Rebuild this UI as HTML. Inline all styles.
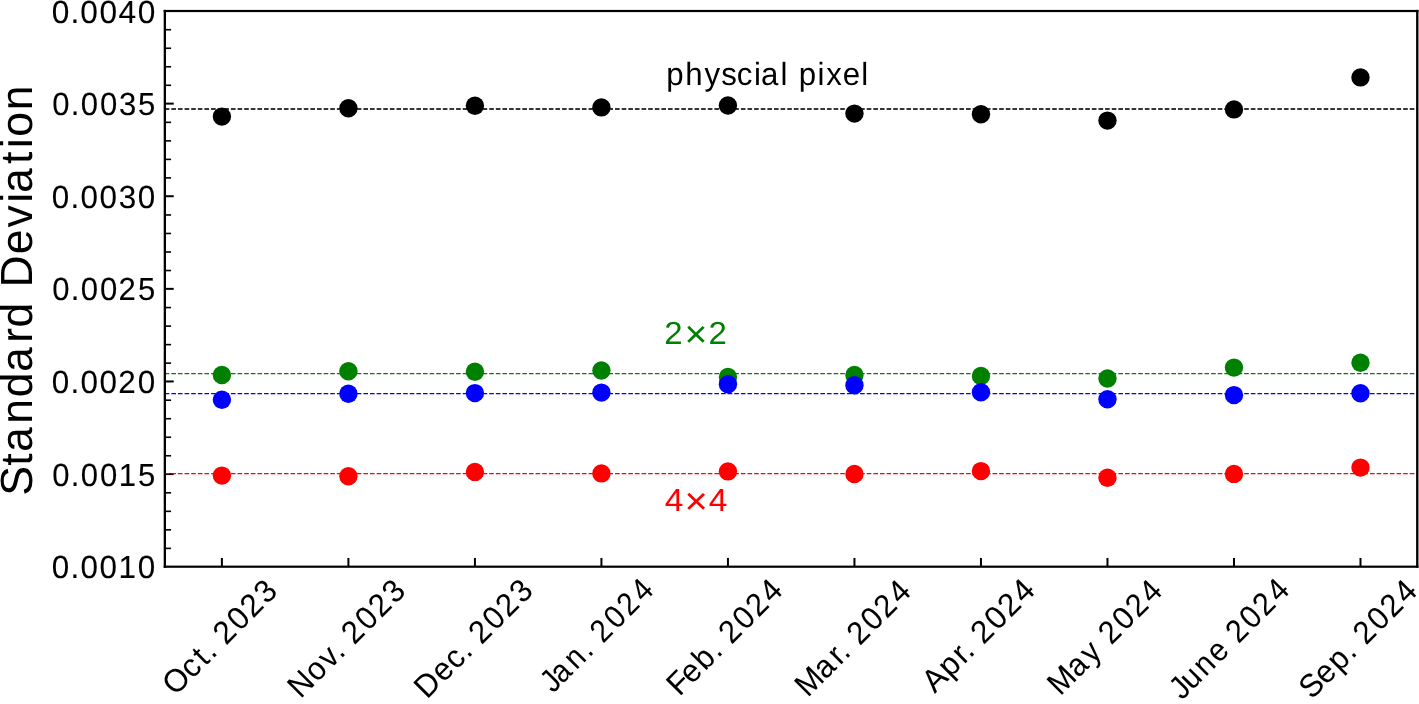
<!DOCTYPE html><html><head><meta charset="utf-8"><title>Standard Deviation</title><style>
html,body{margin:0;padding:0;background:#fff;}body{width:1419px;height:704px;overflow:hidden;}
svg{display:block;will-change:transform;}text{font-family:"Liberation Sans",sans-serif;text-rendering:geometricPrecision;}
</style></head><body>
<svg width="1419" height="704" viewBox="0 0 1419 704">
<rect x="0" y="0" width="1419" height="704" fill="#fff"/>
<g fill="#000">
<rect x="164.97" y="473.08" width="8.75" height="2"/>
<rect x="164.97" y="380.47" width="8.75" height="2"/>
<rect x="164.97" y="287.85" width="8.75" height="2"/>
<rect x="164.97" y="195.23" width="8.75" height="2"/>
<rect x="164.97" y="102.62" width="8.75" height="2"/>
<rect x="164.97" y="547.58" width="6.10" height="1.6"/>
<rect x="164.97" y="529.05" width="6.10" height="1.6"/>
<rect x="164.97" y="510.53" width="6.10" height="1.6"/>
<rect x="164.97" y="492.01" width="6.10" height="1.6"/>
<rect x="164.97" y="454.96" width="6.10" height="1.6"/>
<rect x="164.97" y="436.44" width="6.10" height="1.6"/>
<rect x="164.97" y="417.91" width="6.10" height="1.6"/>
<rect x="164.97" y="399.39" width="6.10" height="1.6"/>
<rect x="164.97" y="362.34" width="6.10" height="1.6"/>
<rect x="164.97" y="343.82" width="6.10" height="1.6"/>
<rect x="164.97" y="325.30" width="6.10" height="1.6"/>
<rect x="164.97" y="306.77" width="6.10" height="1.6"/>
<rect x="164.97" y="269.73" width="6.10" height="1.6"/>
<rect x="164.97" y="251.20" width="6.10" height="1.6"/>
<rect x="164.97" y="232.68" width="6.10" height="1.6"/>
<rect x="164.97" y="214.16" width="6.10" height="1.6"/>
<rect x="164.97" y="177.11" width="6.10" height="1.6"/>
<rect x="164.97" y="158.59" width="6.10" height="1.6"/>
<rect x="164.97" y="140.06" width="6.10" height="1.6"/>
<rect x="164.97" y="121.54" width="6.10" height="1.6"/>
<rect x="164.97" y="84.49" width="6.10" height="1.6"/>
<rect x="164.97" y="65.97" width="6.10" height="1.6"/>
<rect x="164.97" y="47.45" width="6.10" height="1.6"/>
<rect x="164.97" y="28.92" width="6.10" height="1.6"/>
<rect x="220.90" y="557.95" width="2" height="8.75"/>
<rect x="347.41" y="557.95" width="2" height="8.75"/>
<rect x="473.92" y="557.95" width="2" height="8.75"/>
<rect x="600.43" y="557.95" width="2" height="8.75"/>
<rect x="726.94" y="557.95" width="2" height="8.75"/>
<rect x="853.45" y="557.95" width="2" height="8.75"/>
<rect x="979.96" y="557.95" width="2" height="8.75"/>
<rect x="1106.47" y="557.95" width="2" height="8.75"/>
<rect x="1232.98" y="557.95" width="2" height="8.75"/>
<rect x="1359.49" y="557.95" width="2" height="8.75"/>
</g>
<line x1="164.7" y1="109.0" x2="1417.4" y2="109.0" stroke="#363636" stroke-width="2.0" stroke-dasharray="4.6227 2"/>
<line x1="164.7" y1="373.5" x2="1417.4" y2="373.5" stroke="#008000" stroke-width="1.25" stroke-dasharray="4.6227 2"/>
<line x1="164.7" y1="393.5" x2="1417.4" y2="393.5" stroke="#0000ff" stroke-width="1.25" stroke-dasharray="4.6227 2"/>
<line x1="164.7" y1="473.5" x2="1417.4" y2="473.5" stroke="#ff0000" stroke-width="1.25" stroke-dasharray="4.6227 2"/>
<g fill="#000"><circle cx="221.90" cy="116.6" r="9.2"/><circle cx="348.41" cy="108.3" r="9.2"/><circle cx="474.92" cy="105.8" r="9.2"/><circle cx="601.43" cy="107.4" r="9.2"/><circle cx="727.94" cy="105.5" r="9.2"/><circle cx="854.45" cy="113.6" r="9.2"/><circle cx="980.96" cy="114.2" r="9.2"/><circle cx="1107.47" cy="120.6" r="9.2"/><circle cx="1233.98" cy="109.4" r="9.2"/><circle cx="1360.49" cy="77.4" r="9.2"/></g>
<g fill="#008000"><circle cx="221.90" cy="375.0" r="9.2"/><circle cx="348.41" cy="371.2" r="9.2"/><circle cx="474.92" cy="371.8" r="9.2"/><circle cx="601.43" cy="370.5" r="9.2"/><circle cx="727.94" cy="376.9" r="9.2"/><circle cx="854.45" cy="375.0" r="9.2"/><circle cx="980.96" cy="376.0" r="9.2"/><circle cx="1107.47" cy="378.5" r="9.2"/><circle cx="1233.98" cy="367.6" r="9.2"/><circle cx="1360.49" cy="362.7" r="9.2"/></g>
<g fill="#0000ff"><circle cx="221.90" cy="399.8" r="9.2"/><circle cx="348.41" cy="393.8" r="9.2"/><circle cx="474.92" cy="393.1" r="9.2"/><circle cx="601.43" cy="392.6" r="9.2"/><circle cx="727.94" cy="384.2" r="9.2"/><circle cx="854.45" cy="385.3" r="9.2"/><circle cx="980.96" cy="392.2" r="9.2"/><circle cx="1107.47" cy="399.3" r="9.2"/><circle cx="1233.98" cy="395.1" r="9.2"/><circle cx="1360.49" cy="393.3" r="9.2"/></g>
<g fill="#ff0000"><circle cx="221.90" cy="475.6" r="9.2"/><circle cx="348.41" cy="476.2" r="9.2"/><circle cx="474.92" cy="471.9" r="9.2"/><circle cx="601.43" cy="473.4" r="9.2"/><circle cx="727.94" cy="471.4" r="9.2"/><circle cx="854.45" cy="474.0" r="9.2"/><circle cx="980.96" cy="471.1" r="9.2"/><circle cx="1107.47" cy="477.7" r="9.2"/><circle cx="1233.98" cy="473.9" r="9.2"/><circle cx="1360.49" cy="467.6" r="9.2"/></g>
<g fill="#000"><rect x="163.7" y="9.9" width="1254.75" height="2.2"/><rect x="163.7" y="565.6" width="1254.75" height="2.2"/><rect x="163.7" y="9.9" width="2.3" height="557.90"/><rect x="1416.1" y="9.9" width="2.35" height="557.90"/></g>
<text id="t0" transform="translate(175.57,696.22) rotate(-45) scale(0.9752,1.0000)" x="-0.33 24.31 42.63 53.62 58.62 73.22 93.20 112.37 132.39" font-size="32" fill="#000" stroke="#000" stroke-width="0.05">Oct. 2023</text>
<text id="t1" transform="translate(300.60,699.18) rotate(-45) scale(0.9688,1.0000)" x="0.02 23.75 43.27 58.45 63.45 78.21 98.32 117.61 137.76" font-size="32" fill="#000" stroke="#000" stroke-width="0.05">Nov. 2023</text>
<text id="t2" transform="translate(426.69,700.09) rotate(-45) scale(0.9684,1.0000)" x="0.43 24.55 43.07 60.41 65.41 80.18 100.30 119.60 139.76" font-size="32" fill="#000" stroke="#000" stroke-width="0.05">Dec. 2023</text>
<text id="t3" transform="translate(555.95,690.83) rotate(-45) scale(0.9081,1.0000)" x="-4.67 9.78 31.63 51.71 56.71 73.09 94.54 115.13 136.57" font-size="32" fill="#000" stroke="#000" stroke-width="0.05">Jan. 2024</text>
<text id="t4" transform="translate(680.05,696.48) rotate(-45) scale(0.9604,1.0000)" x="-0.84 17.05 36.71 55.82 60.82 75.80 96.08 115.55 135.83" font-size="32" fill="#000" stroke="#000" stroke-width="0.05">Feb. 2024</text>
<text id="t5" transform="translate(807.67,698.11) rotate(-45) scale(0.9628,1.0000)" x="0.12 26.37 47.67 56.42 61.42 76.34 96.57 115.99 136.22" font-size="32" fill="#000" stroke="#000" stroke-width="0.05">Mar. 2024</text>
<text id="t6" transform="translate(935.04,693.74) rotate(-45) scale(0.9908,1.0000)" x="-0.32 21.61 41.41 49.96 54.96 69.18 88.85 107.71 127.38" font-size="32" fill="#000" stroke="#000" stroke-width="0.05">Apr. 2024</text>
<text id="t7" transform="translate(1060.16,696.63) rotate(-45) scale(0.9508,1.0000)" x="0.29 26.83 47.88 52.88 75.97 96.46 116.12 136.60" font-size="32" fill="#000" stroke="#000" stroke-width="0.05">May 2024</text>
<text id="t8" transform="translate(1185.07,697.71) rotate(-45) scale(0.9402,1.0000)" x="-4.75 10.55 30.92 50.84 55.84 80.46 101.18 121.06 141.78" font-size="32" fill="#000" stroke="#000" stroke-width="0.05">June 2024</text>
<text id="t9" transform="translate(1312.06,699.72) rotate(-45) scale(0.9618,1.0000)" x="-0.60 20.56 40.19 59.28 64.28 79.22 99.48 118.91 139.16" font-size="32" fill="#000" stroke="#000" stroke-width="0.05">Sep. 2024</text>
<text id="t10" transform="translate(51.02,578.04) scale(0.9814,1.0000)" x="0.82 19.85 29.98 49.43 68.72 88.33" font-size="32" fill="#000" stroke="#000" stroke-width="0.1">0.0010</text>
<text id="t11" transform="translate(51.34,486.43) scale(0.9706,1.0000)" x="0.93 20.12 30.42 50.08 69.59 89.29" font-size="32" fill="#000" stroke="#000" stroke-width="0.1">0.0015</text>
<text id="t12" transform="translate(51.02,392.81) scale(0.9827,1.0000)" x="0.81 19.82 29.93 49.36 68.38 88.20" font-size="32" fill="#000" stroke="#000" stroke-width="0.1">0.0020</text>
<text id="t13" transform="translate(51.34,300.18) scale(0.9719,1.0000)" x="0.91 20.08 30.36 50.00 69.23 89.16" font-size="32" fill="#000" stroke="#000" stroke-width="0.1">0.0025</text>
<text id="t14" transform="translate(51.02,207.54) scale(0.9818,1.0000)" x="0.81 19.84 29.97 49.41 68.89 88.29" font-size="32" fill="#000" stroke="#000" stroke-width="0.1">0.0030</text>
<text id="t15" transform="translate(51.34,114.93) scale(0.9711,1.0000)" x="0.92 20.10 30.40 50.05 69.74 89.24" font-size="32" fill="#000" stroke="#000" stroke-width="0.1">0.0035</text>
<text id="t16" transform="translate(51.02,22.64) scale(0.9893,1.0000)" x="0.74 19.65 29.67 48.97 68.26 87.56" font-size="32" fill="#000" stroke="#000" stroke-width="0.1">0.0040</text>
<text id="t17" transform="translate(31.99,494.66) rotate(-90) scale(0.9889,1.0000)" x="-1.14 29.34 43.17 71.67 98.58 124.03 153.50 169.11 174.11 209.55 243.07 270.19 295.15 305.13 334.49 350.28 361.87 388.72" font-size="45" fill="#000">Standard Deviation</text>
<text id="t18" transform="translate(665.26,85.29) scale(0.9753,1.0000)" x="1.06 20.40 40.12 57.45 73.35 90.90 98.08 118.28 123.28 136.95 156.14 164.99 181.89 200.91" font-size="32" fill="#000">physcial pixel</text>
<text id="t19" transform="translate(664.25,343.57) scale(1.0293,1.0000)" x="-0.02 19.66 42.95" font-size="32" fill="#008000">2<tspan font-size="38" dy="3.26">×</tspan><tspan dy="-3.26">2</tspan></text>
<text id="t20" transform="translate(664.45,510.87) scale(1.0490,1.0000)" x="0.20 19.08 42.35" font-size="32" fill="#ff0000">4<tspan font-size="38" dy="3.26">×</tspan><tspan dy="-3.26">4</tspan></text>
</svg></body></html>
